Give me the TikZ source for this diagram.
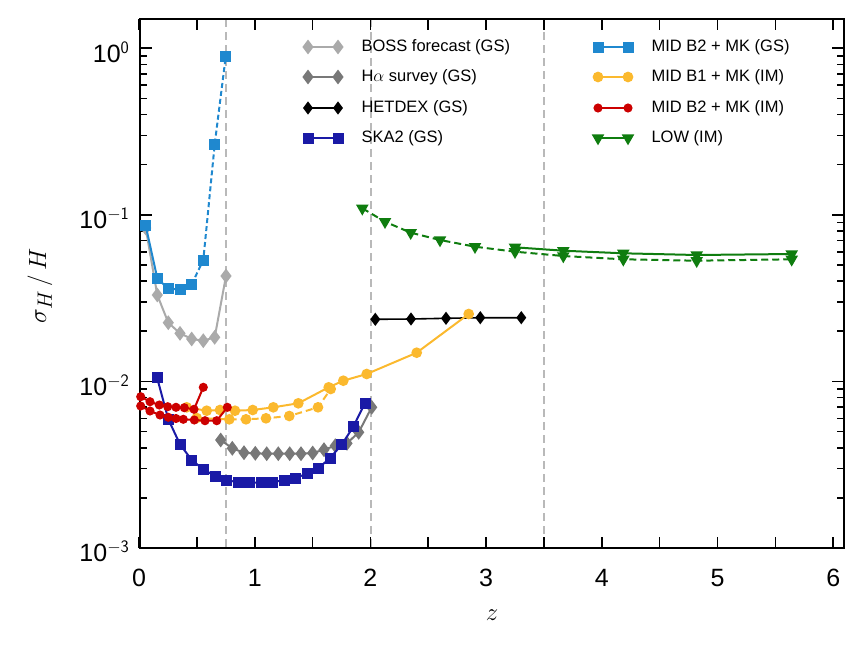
\documentclass[tikz,border=0pt]{standalone}
\usepackage{fontspec}
\setmainfont{Liberation Sans}
\usetikzlibrary{plotmarks}
\definecolor{cMidGS}{RGB}{31,136,207}
\definecolor{cBoss}{RGB}{170,170,170}
\definecolor{cHa}{RGB}{120,120,120}
\definecolor{cSka}{RGB}{26,26,166}
\definecolor{cOr}{RGB}{251,185,46}
\definecolor{cRed}{RGB}{204,0,0}
\definecolor{cLow}{RGB}{15,125,15}
\tikzset{
  ser/.style={line width=2pt},
  sq/.style={ser,mark=square*,mark size=4.5pt,mark options={solid}},
  dm/.style={ser,mark=diamond*,mark size=5.8pt,mark options={solid}},
  ci/.style={ser,mark=*,mark size=4.3pt,mark options={solid}},
  ci2/.style={ser,mark=*,mark size=3.5pt,mark options={solid}},
  tr/.style={ser,mark=triangle*,mark size=5.3pt,mark options={solid,rotate=180}},
  ldash/.style={dash pattern=on 7pt off 4pt},
  ldot/.style={dash pattern=on 5pt off 3pt},
  vline/.style={gray!55,line width=1.8pt,dash pattern=on 8pt off 5pt},
  axl/.style={line width=1.6pt},
  ticklab/.style={font=\fontsize{25}{25}\selectfont},
  legtxt/.style={font=\fontsize{16.5}{16.5}\selectfont,anchor=west}
}
\begin{document}
\begin{tikzpicture}[x=1pt,y=-1pt]
\useasboundingbox (0,0) rectangle (864,648);
% dashed verticals
\draw[vline] (226,19) -- (226,548);
\draw[vline] (371,19) -- (371,548);
\draw[vline] (544,19) -- (544,548);
% frame
\draw[axl] (140,19) rectangle (844,548);
% x ticks
\foreach \k in {0,...,12}{
  \pgfmathsetmacro{\xx}{139+57.85*\k}
  \draw[axl] (\xx,548) -- (\xx,537);
  \draw[axl] (\xx,19) -- (\xx,30);
}
\foreach \k in {0,...,6}{
  \pgfmathsetmacro{\xx}{139+115.7*\k}
  \node[ticklab] (xl\k) at (\xx,578) {\k};
}
% y ticks
\foreach \d in {0,1,2}{
  \foreach \m in {1,...,9}{
    \pgfmathsetmacro{\yy}{548-166.6*(\d+log10(\m))}
    \pgfmathsetmacro{\ll}{ifthenelse(\m==1,12,7)}
    \draw[axl] (140,\yy) -- ++(\ll,0);
    \draw[axl] (844,\yy) -- ++(-\ll,0);
  }
}
\draw[axl] (140,48.2) -- ++(12,0);
\draw[axl] (844,48.2) -- ++(-12,0);
\node[ticklab,anchor=east] (y0) at (133,52) {10$^{\mathsf{0}}$};
\node[ticklab,anchor=east] (y1) at (133,218) {10$^{\mathsf{-1}}$};
\node[ticklab,anchor=east] (y2) at (133,385) {10$^{\mathsf{-2}}$};
\node[ticklab,anchor=east] (y3) at (133,551) {10$^{\mathsf{-3}}$};
\node[rotate=90,font=\fontsize{28}{28}\selectfont] (ylab) at (40,286) {$\sigma_H\,/\,H$};
\node[font=\fontsize{28}{28}\selectfont] (xlab) at (492,615) {$z$};
% data
\draw[cBoss,dm] plot coordinates {(145.7,228)(157.3,295)(168.3,322.7)(180,333.3)(191.7,339)(203.3,340.7)(214.7,337.3)(226,276)};
\draw[cHa,dm] plot coordinates {(220.7,440)(232.3,448.3)(244,452.7)(255.3,453.3)(266.7,453.7)(278.3,453.7)(289.7,453.7)(301,453.7)(312.7,453)(324,449.7)(335.3,445.7)(347,443.3)(358.7,432.3)(371.7,407.3)};
\draw[black,dm,line width=1.6pt,mark size=5.3pt] plot coordinates {(375.3,319.3)(411,319)(446,318.3)(480.3,317.7)(521.3,317.7)};
\draw[cSka,sq] plot coordinates {(157,377.3)(168.3,419.3)(180,444.3)(191.7,460)(203.3,469.3)(215,476)(226.3,480)(238,482.3)(249.3,482.7)(261,482.7)(272.3,482)(284,480.3)(295.3,478)(307,473.7)(318.7,468)(330,458)(341.7,444.7)(353.3,426.7)(365,403)};
\draw[cOr,ci,ldash] plot coordinates {(196.7,418)(229.3,419.3)(246,419.3)(266,418.3)(289.3,416)(318,407.3)(330.7,389)};
\draw[cOr,ci] plot coordinates {(186.7,407.3)(206.7,410.7)(220,410)(235,410.7)(252.7,410)(273.3,407.3)(298.3,403.3)(328.7,387.3)(343.3,380.7)(366.7,374)(416.7,352.7)(468.7,314)};
\draw[cRed,ci2] plot coordinates {(140.7,396.7)(150,401.7)(159.3,405)(167.7,406.7)(176,407.3)(184.3,407.7)(194,409.3)(203.3,387.3)};
\draw[cRed,ci2] plot coordinates {(140.7,406)(150,411)(160,415)(168.3,417.3)(176,418.5)(183.3,419.3)(194.3,420)(205,420.7)(216.7,420.7)(227.3,407.3)};
\draw[cMidGS,sq,ldot] plot coordinates {(191.7,284.3)(203.3,260)(214.7,144.3)(225.7,56.7)};
\draw[cMidGS,sq] plot coordinates {(145.7,225.7)(157.3,278.3)(168.3,288.7)(180,289.3)(191.7,284.3)};
\draw[cLow,tr,ldash] plot coordinates {(362.3,208.3)(385,221.7)(410.7,232.7)(440,240)(475,246.7)(515,251.7)(563.3,256)(623.3,259.3)(696.7,260.7)(791.7,259.3)};
\draw[cLow,tr] plot coordinates {(515,247.3)(563.3,250.7)(623.3,253.3)(696.7,255)(791.7,254)};
% legend
\draw[cBoss,dm] plot coordinates {(308,47)(338,47)};
\node[legtxt] (l1) at (358,47) {BOSS forecast (GS)};
\draw[cHa,dm] plot coordinates {(308,77)(338,77)};
\node[legtxt] (l2) at (358,77) {H$\alpha$ survey (GS)};
\draw[black,dm,line width=1.6pt,mark size=5.3pt] plot coordinates {(308,108)(338,108)};
\node[legtxt] (l3) at (358,108) {HETDEX (GS)};
\draw[cSka,sq] plot coordinates {(308,138)(338,138)};
\node[legtxt] (l4) at (358,138) {SKA2 (GS)};
\draw[cMidGS,sq] plot coordinates {(598,47)(628,47)};
\node[legtxt] (r1) at (648,47) {MID B2 + MK (GS)};
\draw[cOr,ci] plot coordinates {(598,77)(628,77)};
\node[legtxt] (r2) at (648,77) {MID B1 + MK (IM)};
\draw[cRed,ci2] plot coordinates {(598,108)(628,108)};
\node[legtxt] (r3) at (648,108) {MID B2 + MK (IM)};
\draw[cLow,tr] plot coordinates {(598,138)(628,138)};
\node[legtxt] (r4) at (648,138) {LOW (IM)};
\end{tikzpicture}
\end{document}
